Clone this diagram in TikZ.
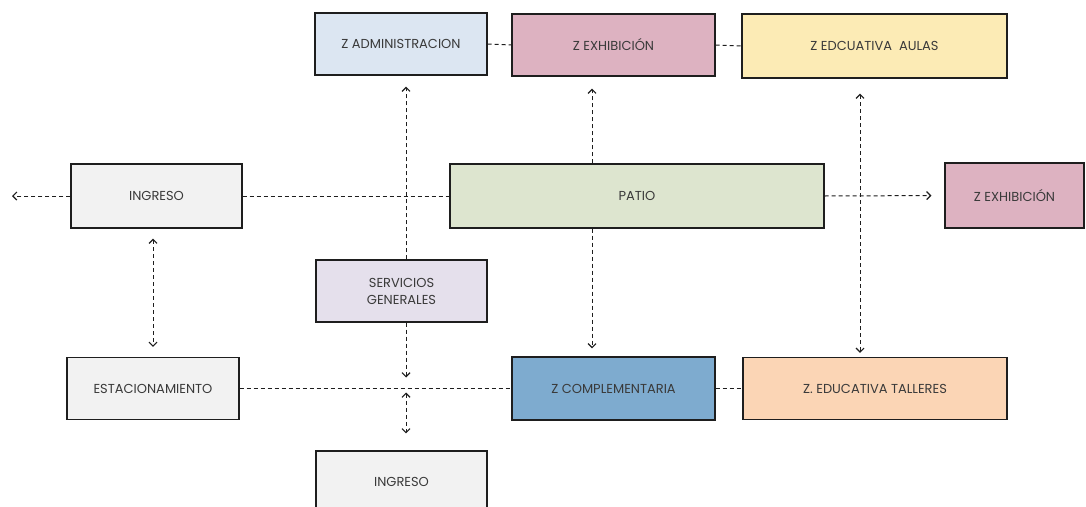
\documentclass[tikz,border=0pt]{standalone}
\usepackage{fontspec}
\setmainfont{Poppins}
\usetikzlibrary{arrows.meta,calc}
\definecolor{cAdm}{HTML}{DCE6F2}
\definecolor{cExh}{HTML}{DDB2C1}
\definecolor{cAul}{HTML}{FCEBB5}
\definecolor{cIng}{HTML}{F2F2F2}
\definecolor{cPat}{HTML}{DDE5CF}
\definecolor{cSer}{HTML}{E5E0EC}
\definecolor{cCom}{HTML}{7EABCF}
\definecolor{cTal}{HTML}{FBD5B5}
\definecolor{cTxt}{HTML}{3A3A3A}
\definecolor{cLine}{HTML}{1E1E1E}
\tikzset{
  zone/.style={draw=cLine, line width=1.1pt, rectangle, inner sep=0pt,
    font=\fontsize{13}{17}\selectfont, text=cTxt, align=center},
  conn/.style={draw=cLine, line width=1pt, dash pattern=on 4pt off 3pt},
  barb/.tip={Straight Barb[length=4pt,width=8pt,line width=1.2pt]},
  tip/.style={-barb},
  tips/.style={barb-barb}
}
\begin{document}
\begin{tikzpicture}[x=1pt,y=-1pt]
\useasboundingbox (0,0) rectangle (1086,506);
\fill[white] (0,0) rectangle (1086,506);

% zones, top row
\node[zone, fill=cAdm, minimum width=172pt, minimum height=62pt] (adm) at (401,44) {Z ADMINISTRACION};
\node[zone, fill=cExh, minimum width=203pt, minimum height=62pt] (exh) at (613.5,45) {Z EXHIBICIÓN};
\node[zone, fill=cAul, minimum width=265pt, minimum height=64pt] (aul) at (874.5,46) {Z EDCUATIVA\ \ AULAS};

% middle row
\node[zone, fill=cIng, minimum width=171pt, minimum height=64pt] (ing) at (156.5,196) {INGRESO};
\node[zone, fill=cPat, minimum width=374pt, minimum height=64pt] (pat) at (637,196) {PATIO};
\node[zone, fill=cExh, minimum width=139pt, minimum height=65pt] (exr) at (1014.5,195.5) {Z EXHIBICIÓN};
\node[zone, fill=cSer, minimum width=171pt, minimum height=62pt] (ser) at (401.5,291) {SERVICIOS\\GENERALES};

% bottom row
\node[zone, fill=cIng, minimum width=172pt, minimum height=62pt] (est) at (153,388.5) {ESTACIONAMIENTO};
\node[zone, fill=cCom, minimum width=203pt, minimum height=63pt] (com) at (613.5,388.5) {Z COMPLEMENTARIA};
\node[zone, fill=cTal, minimum width=264pt, minimum height=62pt] (tal) at (875,388.5) {Z. EDUCATIVA TALLERES};
\node[zone, fill=cIng, minimum width=171pt, minimum height=62pt] (ing2) at (401.5,482) {INGRESO};

% helper columns and free ends
\coordinate (cA) at (406,0);
\coordinate (cB) at (592,0);
\coordinate (cC) at (860,0);
\coordinate (lft) at (12,196);
\coordinate (jn) at (406,388.5);

% horizontal links
\draw[conn, tip] (ing.west) -- (lft);
\draw[conn] (ing.east) -- (pat.west);
\draw[conn, tip, shorten >=13pt] (pat.east) -- (exr.west);
\draw[conn] (adm.east) -- (exh.west);
\draw[conn] (exh.east) -- (aul.west);
\draw[conn] (est.east) -- (com.west);
\draw[conn] (com.east) -- (tal.west);

% vertical links
\draw[conn, tip, shorten >=11pt] (ser.north -| cA) -- (adm.south -| cA);
\draw[conn, tip, shorten >=11pt] (ser.south -| cA) -- (jn);
\draw[conn, tips, shorten <=4pt, shorten >=17pt] (jn) -- (ing2.north -| cA);
\draw[conn, tips, shorten <=10pt, shorten >=10pt] (ing.south -| est.north) -- (est.north);
\draw[conn, tip, shorten >=12pt] (pat.north -| cB) -- (exh.south -| cB);
\draw[conn, tip, shorten >=8pt] (pat.south -| cB) -- (com.north -| cB);
\draw[conn, tips, shorten <=15pt, shorten >=4pt] (aul.south -| cC) -- (tal.north -| cC);
\end{tikzpicture}
\end{document}
